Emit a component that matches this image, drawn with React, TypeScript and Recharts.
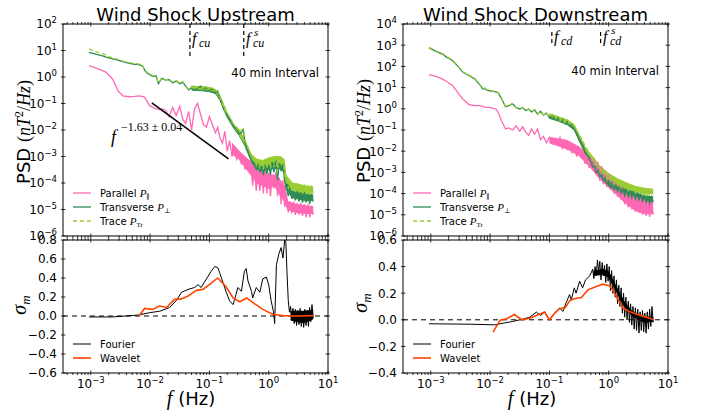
import React from "react";
import { ComposedChart, Line, Area, XAxis, YAxis, ReferenceLine } from "recharts";

const W = 703;
const H = 416;
const SANS = "'DejaVu Sans', sans-serif";
const SERIF = "'Liberation Serif', 'DejaVu Serif', serif";

// frequency grid of the PSD curves (Hz)
const psdFreq = [
  9.3e-4, 1.26e-3, 1.58e-3, 1.82e-3, 2.34e-3, 2.88e-3, 3.47e-3, 4.47e-3, 5.5e-3, 6.6e-3,
  7.6e-3, 8.1e-3, 8.9e-3, 9.8e-3, 0.0112, 0.0126, 0.0138, 0.0158, 0.0182, 0.0209,
  0.024, 0.0275, 0.0316, 0.0355, 0.0398, 0.0447, 0.0501, 0.0562, 0.0631, 0.0708,
  0.0794, 0.0891, 0.1, 0.112, 0.126, 0.138, 0.151, 0.166, 0.182, 0.2,
  0.219, 0.24, 0.263, 0.288, 0.316, 0.347, 0.372, 0.398, 0.437, 0.468,
  0.501, 0.537, 0.575, 0.617, 0.661, 0.708, 0.759, 0.813, 0.871, 0.933,
  1.0, 1.07, 1.15, 1.23, 1.32, 1.41, 1.51, 1.62, 1.74, 1.86,
  2.0, 2.14, 2.29, 2.45, 2.63, 2.82, 3.02, 3.24, 3.47, 3.72,
  3.98, 4.27, 4.57, 4.9, 5.25, 5.62,
];

// upstream PSD (nT^2/Hz)
const parUp = [
  2.7, 2.1, 1.74, 1.5, 0.83, 0.3, 0.195, 0.18, 0.186, 0.195,
  0.18, 0.17, 0.12, 0.083, 0.071, 0.063, 0.06, 0.063, 0.056, 0.032,
  0.071, 0.035, 0.079, 0.025, 0.018, 0.05, 0.01, 0.063, 0.1, 0.04,
  0.016, 0.0126, 0.032, 0.016, 7.9e-3, 0.0126, 5e-3, 3.2e-3, 8.9e-3, 1.6e-3,
  4e-3, 1e-3, 2e-3, 7.9e-4, 1.4e-3, 5e-4, 1e-3, 3.2e-4, 7.9e-4, 2.5e-4,
  5e-4, 7.9e-5, 4e-4, 5e-5, 3.2e-4, 5e-5, 2.5e-4, 4e-5, 3.2e-4, 4e-5,
  2.5e-4, 3.2e-5, 2e-4, 6.3e-5, 2.5e-4, 3.2e-5, 1.6e-4, 1.6e-5, 1.26e-4, 1.26e-5,
  2.5e-5, 7.9e-6, 2e-5, 7.1e-6, 2e-5, 6.3e-6, 1.8e-5, 6.3e-6, 1.8e-5, 5.6e-6,
  1.6e-5, 5e-6, 1.6e-5, 5e-6, 1.4e-5, 6.3e-6,
];
const perpUp = [
  8.5, 7.1, 6.3, 5.6, 4.8, 4.3, 3.8, 3.3, 3.0, 2.95,
  2.5, 1.8, 1.4, 1.26, 1.05, 1.12, 0.56, 0.89, 0.76, 0.79,
  0.6, 0.71, 0.56, 0.63, 0.45, 0.32, 0.4, 0.32, 0.38, 0.45,
  0.33, 0.4, 0.32, 0.35, 0.25, 0.28, 0.16, 0.079, 0.05, 0.035,
  0.025, 0.018, 0.0126, 0.0112, 7.1e-3, 7.9e-3, 0.01, 3.2e-3, 1.8e-3, 1.26e-3,
  7.9e-4, 5.6e-4, 4.5e-4, 3.2e-4, 5e-4, 2.5e-4, 4.5e-4, 2e-4, 5e-4, 2.2e-4,
  5e-4, 2e-4, 7.1e-4, 2.5e-4, 7.9e-4, 1.26e-4, 5.6e-4, 2.8e-4, 5e-4, 1.12e-4,
  6.3e-5, 3.2e-5, 5.6e-5, 2.5e-5, 5e-5, 2.2e-5, 5e-5, 2e-5, 4.5e-5, 1.8e-5,
  4.5e-5, 1.8e-5, 4e-5, 1.6e-5, 4e-5, 2e-5,
];
const traceUp = [
  11.5, 8.9, 7.6, 6.6, 5.2, 4.6, 4.0, 3.5, 3.2, 3.1,
  2.6, 1.9, 1.5, 1.3, 1.1, 1.17, 0.6, 0.93, 0.79, 0.83,
  0.63, 0.74, 0.6, 0.68, 0.48, 0.34, 0.44, 0.34, 0.42, 0.48,
  0.35, 0.43, 0.34, 0.38, 0.28, 0.32, 0.18, 0.089, 0.056, 0.04,
  0.032, 0.02, 0.016, 0.0126, 8.9e-3, 0.01, 0.0112, 4e-3, 2.5e-3, 1.6e-3,
  1.1e-3, 7.9e-4, 6.3e-4, 4.5e-4, 7.9e-4, 3.5e-4, 7.1e-4, 3.2e-4, 7.9e-4, 3.5e-4,
  8.9e-4, 3.5e-4, 1e-3, 4e-4, 1.1e-3, 2.5e-4, 1e-3, 4.5e-4, 7.9e-4, 2e-4,
  1e-4, 6.3e-5, 1.12e-4, 5e-5, 1e-4, 4.5e-5, 1e-4, 4e-5, 8.9e-5, 3.5e-5,
  8.9e-5, 3.5e-5, 7.9e-5, 3.2e-5, 7.9e-5, 4e-5,
];

// upstream noise cores (lower / upper edge of the dense band)
const bandFreqUpPar = [0.24, 0.316, 0.398, 0.501, 0.631, 0.794, 1.0, 1.26, 1.58, 1.86, 2.09, 2.82, 3.98, 5.62];
const parUpLo = [1.26e-3, 7.9e-4, 4e-4, 2e-4, 1e-4, 7.9e-5, 6.3e-5, 7.9e-5, 3.2e-5, 2e-5, 1e-5, 7.9e-6, 7.1e-6, 7.1e-6];
const parUpHi = [3.2e-3, 1.6e-3, 1e-3, 6.3e-4, 3.2e-4, 2.5e-4, 2e-4, 2e-4, 1.26e-4, 7.9e-5, 2e-5, 1.6e-5, 1.4e-5, 1.26e-5];
const bandFreqUp = [
  0.05, 0.079, 0.1, 0.126, 0.151, 0.2, 0.263, 0.316, 0.398, 0.501,
  0.631, 0.794, 1.0, 1.26, 1.58, 1.82, 1.95, 2.51, 3.98, 5.62,
];
const perpUpLo = [
  0.32, 0.3, 0.28, 0.24, 0.132, 0.03, 0.0107, 6.3e-3, 2.5e-3, 7.1e-4,
  3.2e-4, 2.8e-4, 3.2e-4, 3.5e-4, 3.5e-4, 2.5e-4, 6.3e-5, 2.8e-5, 2.2e-5, 2.2e-5,
];
const perpUpHi = [
  0.45, 0.42, 0.4, 0.33, 0.19, 0.042, 0.0148, 0.01, 4e-3, 1e-3,
  5e-4, 4.5e-4, 5e-4, 6.3e-4, 5.6e-4, 5e-4, 1.26e-4, 5e-5, 4e-5, 3.5e-5,
];
const traceUpLo = [
  0.36, 0.34, 0.32, 0.27, 0.15, 0.034, 0.012, 7.1e-3, 2.8e-3, 8.9e-4,
  5e-4, 4.5e-4, 5e-4, 5.6e-4, 5.6e-4, 4e-4, 1.26e-4, 5.6e-5, 4.5e-5, 4.5e-5,
];
const traceUpHi = [
  0.45, 0.42, 0.4, 0.33, 0.19, 0.042, 0.0148, 0.0105, 4e-3, 1.26e-3,
  7.9e-4, 7.1e-4, 8.9e-4, 1e-3, 1e-3, 7.9e-4, 2e-4, 1e-4, 7.9e-5, 7.1e-5,
];

// downstream PSD (nT^2/Hz)
const parDown = [
  40.7, 33, 25, 20, 12.3, 5.6, 2.9, 1.55, 1.41, 1.41,
  1.26, 1.2, 1.17, 1.17, 1.05, 0.98, 0.63, 0.25, 0.112, 0.126,
  0.1, 0.158, 0.089, 0.141, 0.079, 0.056, 0.112, 0.063, 0.112, 0.035,
  0.05, 0.025, 0.045, 0.022, 0.04, 0.02, 0.045, 0.0126, 0.035, 0.0112,
  0.028, 7.9e-3, 0.02, 5.6e-3, 0.016, 4.5e-3, 0.01, 2.5e-3, 7.1e-3, 1.6e-3,
  5e-3, 1.26e-3, 4e-3, 7.9e-4, 3.2e-3, 4e-4, 2e-3, 2.8e-4, 1.26e-3, 2e-4,
  7.9e-4, 1.6e-4, 5e-4, 1e-4, 3.5e-4, 7.1e-5, 2.8e-4, 5e-5, 2e-4, 3.2e-5,
  1.4e-4, 2.2e-5, 1.12e-4, 1.8e-5, 1e-4, 1.4e-5, 7.9e-5, 1.26e-5, 6.3e-5, 1e-5,
  5.6e-5, 8.9e-6, 4.5e-5, 7.9e-6, 4e-5, 1e-5,
];
const perpDown = [
  741, 501, 380, 282, 186, 100, 52.5, 36.3, 25.7, 14.1,
  8.5, 8.9, 7.6, 7.1, 6.6, 6.3, 5.6, 2.8, 1.26, 1.41,
  1.7, 1.12, 0.98, 1.12, 0.83, 0.95, 0.71, 0.89, 0.56, 0.76,
  0.5, 0.63, 0.38, 0.5, 0.32, 0.4, 0.25, 0.32, 0.2, 0.25,
  0.166, 0.19, 0.112, 0.071, 0.04, 0.025, 0.018, 0.01, 6.3e-3, 4.5e-3,
  3.2e-3, 1.8e-3, 2e-3, 1e-3, 1.26e-3, 6.3e-4, 7.9e-4, 4e-4, 5.6e-4, 2.8e-4,
  4e-4, 2e-4, 3.2e-4, 1.6e-4, 2.5e-4, 1.26e-4, 2e-4, 1e-4, 1.6e-4, 7.9e-5,
  1.4e-4, 7.1e-5, 1.26e-4, 6.3e-5, 1.12e-4, 5.6e-5, 1e-4, 5e-5, 8.9e-5, 4.5e-5,
  7.9e-5, 4e-5, 7.1e-5, 3.5e-5, 7.1e-5, 4e-5,
];
const traceDown = [
  794, 525, 398, 295, 195, 105, 56, 39, 27.5, 15.1,
  9.1, 9.5, 7.9, 7.4, 6.9, 6.6, 5.9, 2.95, 1.32, 1.48,
  1.78, 1.17, 1.02, 1.17, 0.87, 1.0, 0.74, 0.93, 0.59, 0.79,
  0.52, 0.66, 0.4, 0.54, 0.34, 0.43, 0.27, 0.35, 0.22, 0.28,
  0.19, 0.22, 0.141, 0.1, 0.056, 0.04, 0.028, 0.018, 0.0112, 8.9e-3,
  6.3e-3, 3.5e-3, 4.5e-3, 2e-3, 2.5e-3, 1.1e-3, 1.6e-3, 7.1e-4, 1e-3, 5e-4,
  7.1e-4, 3.5e-4, 5.6e-4, 2.8e-4, 4.5e-4, 2.2e-4, 3.5e-4, 1.8e-4, 2.8e-4, 1.6e-4,
  2.5e-4, 1.4e-4, 2.2e-4, 1.26e-4, 2e-4, 1.12e-4, 1.8e-4, 1e-4, 1.6e-4, 8.9e-5,
  1.6e-4, 7.9e-5, 1.4e-4, 7.9e-5, 1.4e-4, 8.9e-5,
];

// downstream noise cores
const bandFreqDownPar = [0.1, 0.141, 0.2, 0.316, 0.501, 0.708, 1.0, 1.41, 2.0, 2.82, 3.98, 5.62];
const parDownLo = [0.025, 0.018, 0.0126, 6.3e-3, 1.6e-3, 5e-4, 2e-4, 7.9e-5, 3.2e-5, 1.6e-5, 1.12e-5, 1.12e-5];
const parDownHi = [0.045, 0.038, 0.032, 0.016, 5e-3, 2e-3, 7.9e-4, 3.2e-4, 1.4e-4, 1e-4, 5.6e-5, 4e-5];
const bandFreqDown = [0.1, 0.141, 0.2, 0.263, 0.316, 0.398, 0.501, 0.708, 1.0, 1.41, 2.0, 2.82, 3.98, 5.62];
const perpDownLo = [0.355, 0.263, 0.178, 0.1, 0.032, 7.9e-3, 3.2e-3, 7.1e-4, 2.2e-4, 1.4e-4, 1e-4, 6.3e-5, 4.5e-5, 4e-5];
const perpDownHi = [0.525, 0.38, 0.263, 0.151, 0.05, 0.0126, 4.5e-3, 1.12e-3, 4e-4, 2.5e-4, 1.6e-4, 1.12e-4, 7.9e-5, 7.1e-5];
const traceDownLo = [0.447, 0.324, 0.229, 0.129, 0.0417, 0.0112, 5e-3, 1.26e-3, 5e-4, 2.5e-4, 1.8e-4, 1.26e-4, 1e-4, 1e-4];
const traceDownHi = [0.589, 0.427, 0.302, 0.178, 0.06, 0.0158, 7.1e-3, 2e-3, 8.9e-4, 5e-4, 3.2e-4, 2.2e-4, 1.8e-4, 1.6e-4];

// magnetic helicity sigma_m, upstream
const fourierUpFreq = [
  9.3e-4, 2.34e-3, 6.3e-3, 9.8e-3, 0.0145, 0.0214, 0.0275, 0.0339, 0.0437, 0.0562,
  0.0646, 0.0724, 0.0891, 0.107, 0.123, 0.138, 0.148, 0.17, 0.19, 0.219,
  0.251, 0.282, 0.302, 0.347, 0.389, 0.417, 0.447, 0.513, 0.537, 0.617,
  0.708, 0.794, 0.912, 1.0, 1.1, 1.2, 1.26, 1.35, 1.48, 1.62,
  1.74, 1.86, 1.95, 2.04, 2.14, 2.24, 2.34, 2.45, 2.57, 2.69,
  2.82, 2.95, 3.09, 3.24, 3.39, 3.55, 3.72, 3.89, 4.07, 4.27,
  4.47, 4.68, 4.9, 5.13, 5.37, 5.62,
];
const fourierUp = [
  -0.01, -0.01, 0.01, 0.035, 0.05, 0.09, 0.16, 0.25, 0.28, 0.3,
  0.33, 0.3, 0.39, 0.47, 0.52, 0.51, 0.46, 0.35, 0.26, 0.16,
  0.12, 0.23, 0.3, 0.26, 0.47, 0.5, 0.37, 0.26, 0.19, 0.3,
  0.25, 0.39, 0.41, 0.33, 0.16, 0.05, -0.08, 0.54, 0.65, 0.72,
  0.61, 0.8, 0.77, 0.44, 0.16, 0.04, 0.1, -0.05, 0.08, -0.08,
  0.07, -0.1, 0.06, -0.09, 0.08, -0.11, 0.05, -0.12, 0.07, -0.1,
  0.06, -0.11, 0.09, -0.06, 0.12, -0.02,
];
const fourierUpBandFreq = [2.34, 3.0, 4.0, 5.62];
const fourierUpLo = [-0.04, -0.06, -0.07, -0.03];
const fourierUpHi = [0.05, 0.05, 0.05, 0.06];
const waveletUpFreq = [
  6.46e-3, 8.1e-3, 0.011, 0.0145, 0.019, 0.0257, 0.0339, 0.0437, 0.0603, 0.0776, 0.1,
  0.138, 0.19, 0.251, 0.324, 0.427, 0.575, 0.794, 1.17, 1.74, 2.88, 5.62,
];
const waveletUp = [
  0.0, 0.08, 0.07, 0.105, 0.09, 0.175, 0.18, 0.21, 0.27, 0.28, 0.33,
  0.4, 0.31, 0.19, 0.15, 0.19, 0.13, 0.07, 0.018, 0.004, 0.0, 0.004,
];

// magnetic helicity sigma_m, downstream
const fourierDownFreq = [
  9.3e-4, 4.47e-3, 0.012, 0.0166, 0.024, 0.0355, 0.0468, 0.0603, 0.0708, 0.0832,
  0.1, 0.123, 0.148, 0.17, 0.19, 0.219, 0.234, 0.263, 0.282, 0.324,
  0.363, 0.407, 0.479, 0.537, 0.562, 0.589, 0.617, 0.646, 0.676, 0.708,
  0.741, 0.776, 0.813, 0.851, 0.891, 0.933, 0.977, 1.02, 1.07, 1.12,
  1.17, 1.23, 1.29, 1.35, 1.41, 1.48, 1.55, 1.62, 1.7, 1.78,
  1.86, 1.95, 2.04, 2.14, 2.24, 2.34, 2.45, 2.57, 2.69, 2.82,
  2.95, 3.09, 3.24, 3.39, 3.55, 3.72, 3.89, 4.07, 4.27, 4.47,
  4.68, 4.9, 5.13, 5.37, 5.62,
];
const fourierDown = [
  -0.03, -0.033, -0.038, -0.025, -0.013, 0.005, 0.02, 0.058, 0.033, 0.058,
  0.0, 0.05, 0.088, 0.063, 0.125, 0.19, 0.15, 0.24, 0.2, 0.29,
  0.24, 0.3, 0.33, 0.38, 0.31, 0.4, 0.33, 0.45, 0.36, 0.44,
  0.3, 0.43, 0.33, 0.41, 0.28, 0.42, 0.29, 0.4, 0.22, 0.37,
  0.2, 0.33, 0.17, 0.3, 0.12, 0.26, 0.1, 0.24, 0.05, 0.2,
  0.02, 0.17, 0.0, 0.14, -0.02, 0.12, -0.04, 0.1, -0.07, 0.09,
  -0.08, 0.08, -0.1, 0.06, -0.08, 0.07, -0.09, 0.05, -0.1, 0.06,
  -0.07, 0.08, -0.05, 0.1, -0.02,
];
const fourierDownBandFreq = [0.55, 0.8, 1.0, 1.3, 1.8, 2.5, 4.0, 5.62];
const fourierDownLo = [0.335, 0.34, 0.32, 0.23, 0.11, 0.03, -0.02, -0.01];
const fourierDownHi = [0.365, 0.38, 0.36, 0.26, 0.14, 0.06, 0.02, 0.02];
const waveletDownFreq = [
  0.0112, 0.0148, 0.019, 0.0257, 0.0347, 0.0479, 0.0646, 0.0832, 0.1, 0.123, 0.148, 0.186,
  0.219, 0.263, 0.347, 0.447, 0.617, 0.794, 1.05, 1.35, 1.74, 2.24, 2.88, 4.27, 5.62,
];
const waveletDown = [
  -0.093, -0.003, 0.008, 0.04, 0.0, 0.013, 0.038, 0.058, 0.0, 0.05, 0.083, 0.093,
  0.143, 0.158, 0.168, 0.225, 0.25, 0.268, 0.255, 0.175, 0.088, 0.063, 0.043, 0.02, 0.003,
];

// break frequencies and fitted slope segment
const fcu = 0.047;
const fcuS = 0.38;
const fcd = 0.11;
const fcdS = 0.73;
const fitUp = [
  { x: 0.0107, y: 0.105 },
  { x: 0.21, y: 8.1e-4 },
];

// axes
const xDomain: [number, number] = [3.4e-4, 10];
const psdTicksUp = [1e-6, 1e-5, 1e-4, 1e-3, 1e-2, 1e-1, 1, 10, 100];
const psdTicksDown = [1e-6, 1e-5, 1e-4, 1e-3, 1e-2, 1e-1, 1, 10, 100, 1e3, 1e4];
const sigmaTicksUp = [-0.6, -0.4, -0.2, 0, 0.2, 0.4, 0.6, 0.8];
const sigmaTicksDown = [-0.4, -0.2, 0, 0.2, 0.4, 0.6];

const xTicks: number[] = [];
for (let e = -4; e <= 0; e++) {
  for (let m = 1; m <= 9; m++) {
    const v = m * Math.pow(10, e);
    if (v >= xDomain[0]) xTicks.push(v);
  }
}
xTicks.push(10);

const COLORS = {
  par: "#ff69b4",
  perp: "#2e8b57",
  trace: "#9acd32",
  fourier: "#000000",
  wavelet: "#ff4500",
};

const pts = (fs: number[], vs: number[]) => fs.map((f, i) => ({ f, v: vs[i] }));
const band = (fs: number[], lo: number[], hi: number[]) => fs.map((f, i) => ({ f, r: [lo[i], hi[i]] }));

const minus = (s: string) => s.replace("-", "\u2212");

function XTick(props: any) {
  const { x, y, payload, side, labels } = props;
  const lg = Math.log10(payload.value);
  const major = Math.abs(lg - Math.round(lg)) < 1e-6;
  const len = major ? 4.5 : 2.5;
  const d = side === "bottom" ? -1 : 1;
  return (
    <g>
      <line x1={x} x2={x} y1={y} y2={y + d * len} stroke="#000" strokeWidth={0.8} />
      {labels && major && (
        <text x={x} y={y + 13} textAnchor="middle" fontSize={12} fontFamily={SANS} fill="#000">
          10
          <tspan dy={-5} fontSize={8.5}>
            {minus(String(Math.round(lg)))}
          </tspan>
        </text>
      )}
    </g>
  );
}

function YTick(props: any) {
  const { x, y, payload, side, log } = props;
  const v = payload.value;
  const d = side === "left" ? 1 : -1;
  let label = null;
  if (side === "left") {
    label = log ? (
      <text x={x - 4} y={y + 4.3} textAnchor="end" fontSize={12} fontFamily={SANS} fill="#000">
        10
        <tspan dy={-5} fontSize={8.5}>
          {minus(String(Math.round(Math.log10(v))))}
        </tspan>
      </text>
    ) : (
      <text x={x - 4} y={y + 4.3} textAnchor="end" fontSize={12} fontFamily={SANS} fill="#000">
        {minus(Math.abs(v) < 1e-9 ? "0.0" : v.toFixed(1))}
      </text>
    );
  }
  return (
    <g>
      <line x1={x} x2={x + d * 4.5} y1={y} y2={y} stroke="#000" strokeWidth={0.8} />
      {label}
    </g>
  );
}

const AX = { stroke: "#000", strokeWidth: 1 };

interface PanelProps {
  x0: number;
  x1: number;
  y0: number;
  y1: number;
  yLog: boolean;
  yDomain: [number, number];
  yTicks: number[];
  xLabels: boolean;
  children: React.ReactNode;
}

function Panel({ x0, x1, y0, y1, yLog, yDomain, yTicks, xLabels, children }: PanelProps) {
  const margin = { top: y0 - 1, bottom: H - y1 - 20, left: x0 - 40, right: W - x1 - 1 };
  return (
    <div style={{ position: "absolute", left: 0, top: 0 }}>
      <ComposedChart width={W} height={H} margin={margin}>
        <XAxis
          xAxisId="b"
          dataKey="f"
          type="number"
          scale="log"
          domain={xDomain}
          allowDataOverflow
          ticks={xTicks}
          interval={0}
          height={20}
          tickSize={0}
          tickLine={false}
          axisLine={AX}
          tick={<XTick side="bottom" labels={xLabels} />}
        />
        <XAxis
          xAxisId="t"
          orientation="top"
          dataKey="f"
          type="number"
          scale="log"
          domain={xDomain}
          allowDataOverflow
          ticks={xTicks}
          interval={0}
          height={1}
          tickSize={0}
          tickLine={false}
          axisLine={AX}
          tick={<XTick side="top" />}
        />
        <YAxis
          yAxisId="l"
          type="number"
          scale={yLog ? "log" : "linear"}
          domain={yDomain}
          allowDataOverflow
          ticks={yTicks}
          interval={0}
          width={40}
          tickSize={0}
          tickLine={false}
          axisLine={AX}
          tick={<YTick side="left" log={yLog} />}
        />
        <YAxis
          yAxisId="r"
          orientation="right"
          type="number"
          scale={yLog ? "log" : "linear"}
          domain={yDomain}
          allowDataOverflow
          ticks={yTicks}
          interval={0}
          width={1}
          tickSize={0}
          tickLine={false}
          axisLine={AX}
          tick={<YTick side="right" />}
        />
        {children}
      </ComposedChart>
    </div>
  );
}

function bandArea(key: string, data: any[], color: string) {
  return (
    <Area key={key} xAxisId="b" yAxisId="l" data={data} dataKey="r" type="linear" stroke={color} strokeWidth={1}
      fill={color} fillOpacity={1} dot={false} activeDot={false} isAnimationActive={false} />
  );
}

function seriesLine(key: string, data: any[], color: string, width: number, dash?: string) {
  return (
    <Line key={key} xAxisId="b" yAxisId="l" data={data} dataKey="v" type="linear" dot={false} activeDot={false}
      stroke={color} strokeWidth={width} strokeDasharray={dash} isAnimationActive={false} />
  );
}

function Legend3({ x0 }: { x0: number }) {
  const rows = [
    { y: 193, color: COLORS.par, dash: undefined, name: "Parallel ", sub: "\u2225" },
    { y: 207, color: COLORS.perp, dash: undefined, name: "Transverse ", sub: "\u22a5" },
    { y: 221, color: COLORS.trace, dash: "4 3", name: "Trace ", sub: "Tr" },
  ];
  return (
    <g>
      {rows.map((r) => (
        <g key={r.name}>
          <line x1={x0 + 10} x2={x0 + 28} y1={r.y} y2={r.y} stroke={r.color} strokeWidth={1.3} strokeDasharray={r.dash} />
          <text x={x0 + 37} y={r.y + 3.5} fontSize={10} fontFamily={SANS} fill="#000">
            {r.name}
            <tspan fontFamily={SERIF} fontStyle="italic" fontSize={11}>P</tspan>
            <tspan fontFamily={SERIF} fontSize={7} dy={2}>{r.sub}</tspan>
          </text>
        </g>
      ))}
    </g>
  );
}

function Legend2({ x0 }: { x0: number }) {
  const rows = [
    { y: 344, color: COLORS.fourier, w: 1, name: "Fourier" },
    { y: 358, color: COLORS.wavelet, w: 1.6, name: "Wavelet" },
  ];
  return (
    <g>
      {rows.map((r) => (
        <g key={r.name}>
          <line x1={x0 + 10} x2={x0 + 28} y1={r.y} y2={r.y} stroke={r.color} strokeWidth={r.w} />
          <text x={x0 + 37} y={r.y + 3.5} fontSize={10} fontFamily={SANS} fill="#000">
            {r.name}
          </text>
        </g>
      ))}
    </g>
  );
}

function PsdLabel({ x, y }: { x: number; y: number }) {
  return (
    <text x={x} y={y} transform={`rotate(-90 ${x} ${y})`} textAnchor="middle" fontSize={18} fontFamily={SANS} fill="#000">
      PSD{" "}
      <tspan fontFamily={SERIF}>(</tspan>
      <tspan fontFamily={SERIF} fontStyle="italic">nT</tspan>
      <tspan fontFamily={SERIF} fontSize={12} dy={-7}>2</tspan>
      <tspan fontFamily={SERIF} dy={7}>/</tspan>
      <tspan fontFamily={SERIF} fontStyle="italic">Hz</tspan>
      <tspan fontFamily={SERIF}>)</tspan>
    </text>
  );
}

function SigmaLabel({ x, y }: { x: number; y: number }) {
  return (
    <text x={x} y={y} transform={`rotate(-90 ${x} ${y})`} textAnchor="middle" fontSize={20} fontFamily={SERIF} fontStyle="italic" fill="#000">
      σ<tspan fontSize={13} dy={4}>m</tspan>
    </text>
  );
}

function FreqLabel({ x, y }: { x: number; y: number }) {
  return (
    <text x={x} y={y} textAnchor="middle" fontSize={18} fontFamily={SANS} fill="#000">
      <tspan fontFamily={SERIF} fontStyle="italic" fontSize={20}>f</tspan> (Hz)
    </text>
  );
}

function BreakLabel({ x, y, sub, sup }: { x: number; y: number; sub: string; sup?: string }) {
  return (
    <g fontFamily={SERIF} fontStyle="italic" fill="#000">
      <text x={x} y={y} fontSize={16}>f</text>
      {sup && <text x={x + 8} y={y - 8} fontSize={11}>{sup}</text>}
      <text x={x + 7} y={y + 3} fontSize={12}>{sub}</text>
    </g>
  );
}

export default function App() {
  const L = { x0: 63, x1: 328 };
  const R = { x0: 403, x1: 668 };
  const T = { y0: 24, y1: 236 };
  const B = { y0: 240, y1: 373 };
  return (
    <div style={{ position: "absolute", left: 0, top: 0, width: W, height: H, background: "#fff" }}>
      <Panel {...L} {...T} yLog yDomain={[1e-6, 100]} yTicks={psdTicksUp} xLabels={false}>
        {bandArea("parBand", band(bandFreqUpPar, parUpLo, parUpHi), COLORS.par)}
        {seriesLine("par", pts(psdFreq, parUp), COLORS.par, 1.3)}
        {bandArea("perpBand", band(bandFreqUp, perpUpLo, perpUpHi), COLORS.perp)}
        {seriesLine("perp", pts(psdFreq, perpUp), COLORS.perp, 1.3)}
        {bandArea("traceBand", band(bandFreqUp, traceUpLo, traceUpHi), COLORS.trace)}
        {seriesLine("trace", pts(psdFreq, traceUp), COLORS.trace, 1.3, "4 3")}
        <ReferenceLine xAxisId="b" yAxisId="l" segment={fitUp} stroke="#000" strokeWidth={1.5} />
        <ReferenceLine xAxisId="b" yAxisId="l" segment={[{ x: fcu, y: 100 }, { x: fcu, y: 5.2 }]} stroke="#000" strokeWidth={1.2} strokeDasharray="4 3" />
        <ReferenceLine xAxisId="b" yAxisId="l" segment={[{ x: fcuS, y: 100 }, { x: fcuS, y: 5.2 }]} stroke="#000" strokeWidth={1.2} strokeDasharray="4 3" />
      </Panel>
      <Panel {...R} {...T} yLog yDomain={[1e-6, 1e4]} yTicks={psdTicksDown} xLabels={false}>
        {bandArea("parBand", band(bandFreqDownPar, parDownLo, parDownHi), COLORS.par)}
        {seriesLine("par", pts(psdFreq, parDown), COLORS.par, 1.3)}
        {bandArea("perpBand", band(bandFreqDown, perpDownLo, perpDownHi), COLORS.perp)}
        {seriesLine("perp", pts(psdFreq, perpDown), COLORS.perp, 1.3)}
        {bandArea("traceBand", band(bandFreqDown, traceDownLo, traceDownHi), COLORS.trace)}
        {seriesLine("trace", pts(psdFreq, traceDown), COLORS.trace, 1.3, "4 3")}
        <ReferenceLine xAxisId="b" yAxisId="l" segment={[{ x: fcd, y: 4200 }, { x: fcd, y: 1000 }]} stroke="#000" strokeWidth={1.2} strokeDasharray="4 3" />
        <ReferenceLine xAxisId="b" yAxisId="l" segment={[{ x: fcdS, y: 4200 }, { x: fcdS, y: 1000 }]} stroke="#000" strokeWidth={1.2} strokeDasharray="4 3" />
      </Panel>
      <Panel {...L} {...B} yLog={false} yDomain={[-0.6, 0.8]} yTicks={sigmaTicksUp} xLabels>
        <ReferenceLine xAxisId="b" yAxisId="l" y={0} stroke="#000" strokeDasharray="5 4" strokeWidth={1} />
        {bandArea("fourierBand", band(fourierUpBandFreq, fourierUpLo, fourierUpHi), COLORS.fourier)}
        {seriesLine("fourier", pts(fourierUpFreq, fourierUp), COLORS.fourier, 1)}
        {seriesLine("wavelet", pts(waveletUpFreq, waveletUp), COLORS.wavelet, 1.6)}
      </Panel>
      <Panel {...R} {...B} yLog={false} yDomain={[-0.4, 0.6]} yTicks={sigmaTicksDown} xLabels>
        <ReferenceLine xAxisId="b" yAxisId="l" y={0} stroke="#000" strokeDasharray="5 4" strokeWidth={1} />
        {bandArea("fourierBand", band(fourierDownBandFreq, fourierDownLo, fourierDownHi), COLORS.fourier)}
        {seriesLine("fourier", pts(fourierDownFreq, fourierDown), COLORS.fourier, 1)}
        {seriesLine("wavelet", pts(waveletDownFreq, waveletDown), COLORS.wavelet, 1.6)}
      </Panel>

      <svg width={W} height={H} style={{ position: "absolute", left: 0, top: 0 }}>
        <text x={195.5} y={21} textAnchor="middle" fontSize={18} fontFamily={SANS} fill="#000">Wind Shock Upstream</text>
        <text x={535.5} y={21} textAnchor="middle" fontSize={18} fontFamily={SANS} fill="#000">Wind Shock Downstream</text>

        <text x={319} y={77} textAnchor="end" fontSize={11.5} fontFamily={SANS} fill="#000">40 min Interval</text>
        <text x={659} y={75} textAnchor="end" fontSize={11.5} fontFamily={SANS} fill="#000">40 min Interval</text>

        <BreakLabel x={192} y={44} sub="cu" />
        <BreakLabel x={246} y={44} sub="cu" sup="s" />
        <BreakLabel x={554} y={42} sub="cd" />
        <BreakLabel x={603} y={42} sub="cd" sup="s" />

        <text x={111} y={143} fontSize={18} fontFamily={SERIF} fontStyle="italic" fill="#000">f</text>
        <text x={121} y={131} fontSize={12} fontFamily={SERIF} fill="#000">{"\u22121.63 \u00b1 0.04"}</text>

        <Legend3 x0={63} />
        <Legend3 x0={403} />
        <Legend2 x0={63} />
        <Legend2 x0={403} />

        <PsdLabel x={30} y={132} />
        <PsdLabel x={370} y={131} />
        <SigmaLabel x={26} y={305} />
        <SigmaLabel x={367} y={303} />
        <FreqLabel x={191} y={405} />
        <FreqLabel x={532} y={405} />
      </svg>
    </div>
  );
}
